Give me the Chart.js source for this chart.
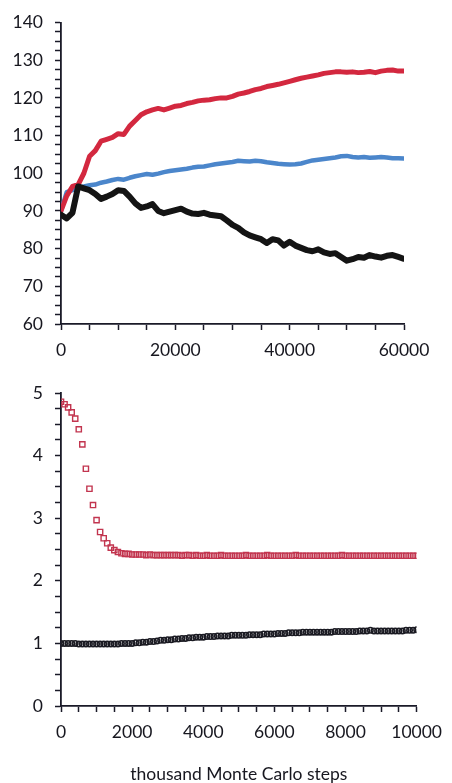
<!DOCTYPE html>
<html>
<head>
<meta charset="utf-8">
<script src="https://cdn.jsdelivr.net/npm/chart.js@4.4.1/dist/chart.umd.min.js"></script>
<style>
  html, body { margin: 0; padding: 0; background: #fff; }
  #wrap { position: relative; width: 452px; height: 783px; }
  #topChart { position: absolute; left: 0; top: 0; }
  #bottomChart { position: absolute; left: 0; top: 370px; }
</style>
</head>
<body>
<div id="wrap">
  <canvas id="topChart" width="452" height="370"></canvas>
  <canvas id="bottomChart" width="452" height="413"></canvas>
</div>
<script>
// ---- top panel data (x = Monte Carlo steps) ----
const topSteps = [0,1000,2000,3000,4000,5000,6000,7000,8000,9000,
  10000,11000,12000,13000,14000,15000,16000,17000,18000,19000,
  20000,21000,22000,23000,24000,25000,26000,27000,28000,29000,
  30000,31000,32000,33000,34000,35000,36000,37000,38000,39000,
  40000,41000,42000,43000,44000,45000,46000,47000,48000,49000,
  50000,51000,52000,53000,54000,55000,56000,57000,58000,59000,60000];

const redTop = [90,94,96.5,97,100,104.5,106,108.5,109,109.5,
  110.5,110.3,112.5,114,115.5,116.3,116.8,117.2,116.8,117.3,
  117.8,118,118.5,118.8,119.2,119.4,119.5,119.8,120,120,
  120.4,121,121.3,121.7,122.2,122.5,123,123.3,123.6,124,
  124.4,124.8,125.2,125.5,125.8,126.1,126.5,126.7,126.9,126.9,
  126.8,126.9,126.7,126.8,127,126.7,127.1,127.3,127.4,127.1,127.1];

const blueTop = [90,95,95.5,96,96.5,96.8,97,97.5,97.8,98.2,
  98.5,98.3,98.8,99.2,99.5,99.8,99.6,99.9,100.3,100.6,
  100.8,101,101.2,101.5,101.7,101.8,102.1,102.4,102.6,102.8,
  103,103.3,103.2,103.1,103.3,103.2,102.9,102.7,102.5,102.4,
  102.3,102.4,102.6,103,103.4,103.6,103.8,104,104.2,104.5,
  104.6,104.3,104.2,104.3,104.1,104.2,104.3,104.2,104,104,103.9];

const blackTop = [89,88,89.5,96.5,96,95.5,94.5,93.2,93.8,94.5,
  95.5,95.3,93.8,92,90.8,91.2,91.8,90,89.4,89.8,
  90.2,90.6,89.8,89.3,89.2,89.5,89,88.8,88.6,87.5,
  86.3,85.5,84.3,83.5,83,82.5,81.5,82.5,82.2,80.8,
  81.8,80.8,80.2,79.6,79.3,79.8,79,78.6,78.8,77.8,
  76.8,77.2,77.8,77.6,78.3,77.9,77.6,78.1,78.3,77.8,77.3];

const topXLabels = [0, 20000, 40000, 60000];
const topYLabels = [60, 70, 80, 90, 100, 110, 120, 130, 140];

// ---- bottom panel data (x = thousand Monte Carlo steps) ----
const bottomSteps = [0,100,200,300,400,500,600,700,800,900,
  1000,1100,1200,1300,1400,1500,1600,1700,1800,1900,
  2000,2100,2200,2300,2400,2500,2600,2700,2800,2900,
  3000,3100,3200,3300,3400,3500,3600,3700,3800,3900,
  4000,4100,4200,4300,4400,4500,4600,4700,4800,4900,
  5000,5100,5200,5300,5400,5500,5600,5700,5800,5900,
  6000,6100,6200,6300,6400,6500,6600,6700,6800,6900,
  7000,7100,7200,7300,7400,7500,7600,7700,7800,7900,
  8000,8100,8200,8300,8400,8500,8600,8700,8800,8900,
  9000,9100,9200,9300,9400,9500,9600,9700,9800,9900,10000];

const redBottom = [4.86,4.82,4.77,4.69,4.59,4.42,4.18,3.79,3.47,3.21,
  2.97,2.78,2.68,2.60,2.53,2.49,2.46,2.44,2.43,2.43,
  2.42,2.42,2.42,2.42,2.41,2.42,2.41,2.41,2.41,2.41,
  2.41,2.41,2.41,2.41,2.40,2.41,2.41,2.40,2.41,2.40,
  2.40,2.41,2.40,2.40,2.40,2.41,2.40,2.40,2.40,2.40,
  2.40,2.40,2.41,2.40,2.40,2.40,2.40,2.40,2.41,2.40,
  2.40,2.40,2.40,2.40,2.40,2.40,2.41,2.40,2.40,2.40,
  2.40,2.40,2.40,2.40,2.40,2.40,2.40,2.40,2.40,2.41,
  2.40,2.40,2.40,2.40,2.40,2.40,2.40,2.40,2.40,2.40,
  2.40,2.40,2.40,2.40,2.40,2.40,2.40,2.40,2.40,2.40,2.40];

const blackBottom = [1.00,1.00,1.00,1.00,1.00,0.99,0.99,0.99,0.99,0.99,
  0.99,0.99,0.99,0.99,0.99,0.99,0.99,1.00,1.00,1.00,
  1.00,1.01,1.01,1.02,1.02,1.03,1.03,1.04,1.05,1.05,
  1.06,1.06,1.07,1.07,1.08,1.08,1.09,1.09,1.10,1.10,
  1.10,1.11,1.11,1.11,1.12,1.12,1.12,1.12,1.13,1.13,
  1.13,1.13,1.13,1.14,1.14,1.14,1.14,1.15,1.15,1.15,
  1.15,1.16,1.16,1.16,1.17,1.17,1.17,1.17,1.18,1.18,
  1.18,1.18,1.18,1.18,1.18,1.18,1.18,1.19,1.19,1.19,
  1.19,1.19,1.19,1.19,1.20,1.20,1.20,1.21,1.20,1.20,
  1.20,1.20,1.20,1.20,1.20,1.20,1.20,1.21,1.21,1.21,1.22];

const bottomXLabels = [0, 2000, 4000, 6000, 8000, 10000];
const bottomYLabels = [0, 1, 2, 3, 4, 5];
const bottomXTitle = 'thousand Monte Carlo steps';

const AXIS = '#1a1a28';
const TEXT = '#17171f';
const FONT = "Lato, 'Open Sans', sans-serif";

function pairs(xs, ys) {
    return ys.map((y, i) => ({ x: xs[i], y: y }));
}

function axisCommon(labels) {
    return {
        type: 'linear',
        border: { display: true, color: AXIS, width: 1.8 },
        grid: { drawOnChartArea: false, drawTicks: true, tickLength: 6, tickColor: AXIS, tickWidth: 1.5 },
        ticks: {
            autoSkip: false,
            maxRotation: 0,
            color: TEXT,
            font: { family: FONT, size: 17.5 },
            callback: v => labels.includes(v) ? String(v) : ''
        }
    };
}

function lineSet(data, color, width) {
    return {
        data: data,
        showLine: true,
        borderColor: color,
        backgroundColor: color,
        borderWidth: width,
        pointRadius: 0,
        tension: 0,
        borderJoinStyle: 'round',
        borderCapStyle: 'round'
    };
}

// ---- top chart ----
const topX = axisCommon(topXLabels);
topX.min = 0; topX.max = 60000;
topX.ticks.stepSize = 5000;
topX.ticks.padding = 10;
topX.afterFit = s => { s.height = 46; };

const topY = axisCommon(topYLabels);
topY.min = 60; topY.max = 140;
topY.ticks.stepSize = 2.5;
topY.ticks.padding = 12;
topY.afterFit = s => { s.width = 61; };

new Chart(document.getElementById('topChart'), {
    type: 'scatter',
    data: {
        datasets: [
            lineSet(pairs(topSteps, blackTop), '#141414', 6),
            lineSet(pairs(topSteps, redTop), '#d3283f', 5),
            lineSet(pairs(topSteps, blueTop), '#4b86cb', 4.5)
        ]
    },
    options: {
        responsive: false,
        animation: false,
        layout: { padding: { top: 19, right: 48, left: 0, bottom: 0 } },
        plugins: { legend: { display: false }, tooltip: { enabled: false } },
        scales: { x: topX, y: topY }
    }
});

// ---- bottom chart ----
const botX = axisCommon(bottomXLabels);
botX.min = 0; botX.max = 10000;
botX.ticks.stepSize = 500;
botX.ticks.padding = 10;
botX.title = {
    display: true,
    text: bottomXTitle,
    color: TEXT,
    font: { family: FONT, size: 17.5, lineHeight: 1 },
    padding: { top: 0, bottom: 0 }
};
botX.afterFit = s => { s.height = 77; };

const botY = axisCommon(bottomYLabels);
botY.min = 0; botY.max = 5;
botY.ticks.stepSize = 0.25;
botY.ticks.padding = 12;
botY.afterFit = s => { s.width = 61; };

new Chart(document.getElementById('bottomChart'), {
    type: 'scatter',
    data: {
        datasets: [
            {
                data: pairs(bottomSteps, redBottom),
                pointStyle: 'rect',
                pointRadius: 3.7,
                borderColor: '#c2354f',
                backgroundColor: 'rgba(0,0,0,0)',
                borderWidth: 1.4
            },
            {
                data: pairs(bottomSteps, blackBottom),
                pointStyle: 'circle',
                pointRadius: 2.7,
                borderColor: '#1a1a22',
                backgroundColor: 'rgba(0,0,0,0)',
                borderWidth: 1.6
            }
        ]
    },
    options: {
        responsive: false,
        animation: false,
        layout: { padding: { top: 23, right: 26, left: 0, bottom: 0 } },
        plugins: { legend: { display: false }, tooltip: { enabled: false } },
        scales: { x: botX, y: botY }
    }
});
</script>
</body>
</html>
